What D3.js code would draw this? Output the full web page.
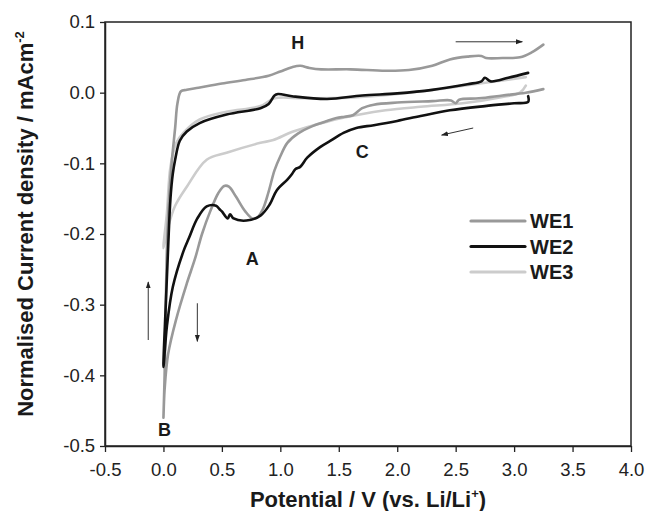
<!DOCTYPE html>
<html>
<head>
<meta charset="utf-8">
<script src="https://cdn.jsdelivr.net/npm/d3@7"></script>
<style>
  body { margin: 0; background: #fff; }
  text { font-family: "Liberation Sans", Arial, sans-serif; }
</style>
</head>
<body>
<script>
const width = 647, height = 511;
const margin = { left: 105, top: 22, right: 16, bottom: 65 };

const xTicks = [-0.5, 0.0, 0.5, 1.0, 1.5, 2.0, 2.5, 3.0, 3.5, 4.0];
const yTicks = [-0.5, -0.4, -0.3, -0.2, -0.1, 0.0, 0.1];

const seriesNames = ['WE1', 'WE2', 'WE3'];
const seriesColors = ['#999999', '#111111', '#cccccc'];

// [potential V, current density mA/cm2], cathodic sweep then anodic sweep
const we1 = [
  [3.25, 0.005], [3.1, 0.0], [2.9, -0.004], [2.7, -0.008], [2.53, -0.010], [2.5, -0.015], [2.46, -0.011],
  [2.3, -0.012], [2.0, -0.014], [1.8, -0.017], [1.7, -0.022], [1.62, -0.032], [1.55, -0.034], [1.48, -0.036],
  [1.4, -0.040], [1.28, -0.047], [1.15, -0.058], [1.06, -0.071], [1.0, -0.09], [0.95, -0.11], [0.9, -0.14],
  [0.85, -0.165], [0.8, -0.177], [0.76, -0.178], [0.7, -0.168], [0.62, -0.147], [0.56, -0.133], [0.52, -0.132],
  [0.47, -0.142], [0.4, -0.168], [0.33, -0.2], [0.27, -0.235], [0.2, -0.27], [0.11, -0.32], [0.04, -0.37],
  [0.01, -0.42], [0.0, -0.46],
  [0.01, -0.40], [0.02, -0.3], [0.03, -0.22], [0.045, -0.16], [0.07, -0.1], [0.1, -0.05], [0.12, -0.015],
  [0.15, 0.002], [0.2, 0.004], [0.3, 0.007], [0.5, 0.013], [0.7, 0.018], [0.9, 0.024], [1.0, 0.03],
  [1.1, 0.036], [1.17, 0.038], [1.25, 0.035], [1.35, 0.033], [1.6, 0.033], [1.9, 0.031], [2.1, 0.032],
  [2.3, 0.038], [2.45, 0.047], [2.6, 0.051], [2.72, 0.052], [2.76, 0.049], [2.9, 0.049], [3.05, 0.050],
  [3.15, 0.057], [3.25, 0.068]
];
const we2 = [
  [3.12, -0.005], [3.12, -0.013], [3.0, -0.015], [2.75, -0.019], [2.45, -0.025], [2.2, -0.033], [2.0, -0.040],
  [1.8, -0.046], [1.65, -0.050], [1.54, -0.057], [1.43, -0.068], [1.34, -0.077], [1.23, -0.092], [1.17, -0.105],
  [1.13, -0.108], [1.1, -0.115], [1.06, -0.123], [0.97, -0.138], [0.91, -0.158], [0.83, -0.174], [0.71, -0.181],
  [0.6, -0.178], [0.57, -0.172], [0.55, -0.178], [0.5, -0.168], [0.48, -0.165], [0.45, -0.160], [0.37, -0.161],
  [0.29, -0.178], [0.22, -0.205], [0.17, -0.225], [0.08, -0.275], [0.03, -0.33], [0.0, -0.388],
  [0.02, -0.3], [0.04, -0.22], [0.06, -0.15], [0.08, -0.115], [0.1, -0.095], [0.14, -0.068], [0.2, -0.055],
  [0.31, -0.043], [0.54, -0.031], [0.83, -0.022], [0.9, -0.016], [0.95, -0.004], [0.98, -0.002], [1.1, -0.005],
  [1.4, -0.009], [1.7, -0.004], [2.0, -0.001], [2.3, 0.004], [2.6, 0.012], [2.72, 0.016], [2.75, 0.021],
  [2.8, 0.016], [2.95, 0.021], [3.12, 0.028]
];
const we3 = [
  [3.1, 0.010], [3.05, 0.0], [2.9, -0.006], [2.56, -0.015], [2.2, -0.02], [1.9, -0.025], [1.68, -0.031],
  [1.4, -0.041], [1.11, -0.055], [0.94, -0.067], [0.83, -0.071], [0.54, -0.085], [0.37, -0.095], [0.2, -0.133],
  [0.1, -0.16], [0.04, -0.19], [0.0, -0.22],
  [0.03, -0.17], [0.06, -0.105], [0.11, -0.071], [0.17, -0.057], [0.31, -0.038], [0.54, -0.027], [0.83, -0.019],
  [0.95, -0.008], [1.2, -0.008], [1.6, -0.007], [2.0, -0.002], [2.4, 0.006], [2.8, 0.015], [3.1, 0.022]
];

const peakLabels = [
  { t: 'H', v: 1.15, i: 0.070 },
  { t: 'A', v: 0.76, i: -0.235 },
  { t: 'C', v: 1.7, i: -0.084 },
  { t: 'B', v: 0.01, i: -0.478 }
];
// sweep direction arrows [v1, i1, v2, i2]
const arrows = [
  [2.5, 0.072, 3.07, 0.072],
  [2.65, -0.050, 2.38, -0.060],
  [-0.13, -0.350, -0.13, -0.268],
  [0.29, -0.298, 0.29, -0.352]
];

const svg = d3.select('body').append('svg')
  .attr('width', width).attr('height', height)
  .attr('xmlns', 'http://www.w3.org/2000/svg');

const x = d3.scaleLinear().domain([-0.5, 4.0]).range([margin.left, width - margin.right]);
const y = d3.scaleLinear().domain([-0.5, 0.1]).range([height - margin.bottom, margin.top]);

svg.append('defs').append('marker')
  .attr('id', 'ah').attr('viewBox', '0 0 10 10')
  .attr('refX', 9).attr('refY', 5)
  .attr('markerWidth', 7).attr('markerHeight', 7)
  .attr('markerUnits', 'userSpaceOnUse')
  .attr('orient', 'auto')
  .append('path').attr('d', 'M0,1.5 L10,5 L0,8.5 Z').attr('fill', '#222');

// frame
svg.append('rect')
  .attr('x', x(-0.5)).attr('y', y(0.1))
  .attr('width', x(4.0) - x(-0.5)).attr('height', y(-0.5) - y(0.1))
  .attr('fill', 'none').attr('stroke', '#222').attr('stroke-width', 1.5);

const fmt = d => d.toFixed(1);

const gx = svg.append('g')
  .attr('transform', `translate(0,${y(-0.5)})`)
  .call(d3.axisBottom(x).tickValues(xTicks).tickFormat(fmt).tickSize(6).tickSizeOuter(0));
const gy = svg.append('g')
  .attr('transform', `translate(${x(-0.5)},0)`)
  .call(d3.axisLeft(y).tickValues(yTicks).tickFormat(fmt).tickSize(5).tickSizeOuter(0));

[gx, gy].forEach(g => {
  g.select('.domain').attr('stroke', '#222').attr('stroke-width', 1.5);
  g.selectAll('.tick line').attr('stroke', '#222').attr('stroke-width', 1.3);
  g.selectAll('.tick text')
    .attr('font-family', '"Liberation Sans", Arial, sans-serif')
    .attr('font-size', 18.5).attr('fill', '#222');
});
gx.selectAll('.tick text').attr('dy', '1.12em');
gy.selectAll('.tick text').attr('dx', '-0.1em');

const line = d3.line()
  .x(d => x(d[0])).y(d => y(d[1]))
  .curve(d3.curveCatmullRom.alpha(0.5));

const drawOrder = [[we3, 2], [we1, 0], [we2, 1]];
drawOrder.forEach(([data, k]) => {
  svg.append('path')
    .datum(data)
    .attr('d', line)
    .attr('fill', 'none')
    .attr('stroke', seriesColors[k])
    .attr('stroke-width', 2.6)
    .attr('stroke-linejoin', 'round')
    .attr('stroke-linecap', 'round');
});

// arrows
svg.selectAll('.arrow').data(arrows).enter().append('line')
  .attr('x1', d => x(d[0])).attr('y1', d => y(d[1]))
  .attr('x2', d => x(d[2])).attr('y2', d => y(d[3]))
  .attr('stroke', '#333').attr('stroke-width', 1)
  .attr('marker-end', 'url(#ah)');

// peak labels
svg.selectAll('.peak').data(peakLabels).enter().append('text')
  .attr('x', d => x(d.v)).attr('y', d => y(d.i))
  .attr('text-anchor', 'middle').attr('dominant-baseline', 'central')
  .attr('font-size', 18).attr('font-weight', 'bold').attr('fill', '#1a1a1a')
  .text(d => d.t);

// legend
const leg = svg.append('g').attr('transform', 'translate(471,221)');
seriesNames.forEach((n, k) => {
  const g = leg.append('g').attr('transform', `translate(0,${k * 25.5})`);
  g.append('line').attr('x1', 0).attr('x2', 54).attr('y1', 0).attr('y2', 0)
    .attr('stroke', seriesColors[k]).attr('stroke-width', 3.2).attr('stroke-linecap', 'round');
  g.append('text').attr('x', 59).attr('y', 0).attr('dy', '0.36em')
    .attr('font-size', 20).attr('font-weight', 'bold').attr('fill', '#1a1a1a')
    .text(n);
});

// axis titles
const xt = svg.append('text')
  .attr('x', (x(-0.5) + x(4.0)) / 2).attr('y', 507)
  .attr('text-anchor', 'middle')
  .attr('font-size', 22).attr('font-weight', 'bold').attr('fill', '#1a1a1a');
xt.append('tspan').text('Potential / V (vs. Li/Li');
xt.append('tspan').attr('dy', -9).attr('font-size', 13).text('+');
xt.append('tspan').attr('dy', 9).text(')');

const yt = svg.append('text')
  .attr('transform', 'translate(33,224) rotate(-90)')
  .attr('text-anchor', 'middle')
  .attr('font-size', 22).attr('font-weight', 'bold').attr('fill', '#1a1a1a');
yt.append('tspan').text('Normalised Current density / mAcm');
yt.append('tspan').attr('dy', -9).attr('font-size', 13).text('-2');
</script>
</body>
</html>
